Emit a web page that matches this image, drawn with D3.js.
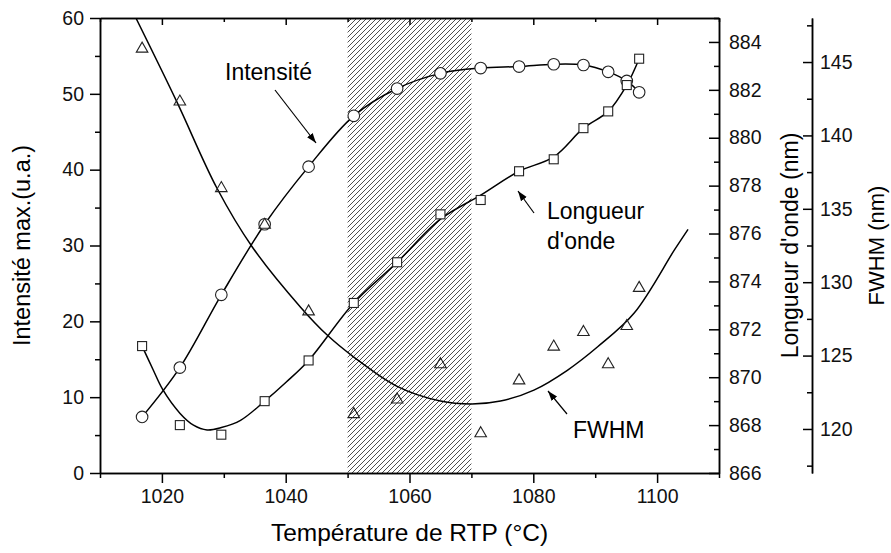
<!DOCTYPE html>
<html>
<head>
<meta charset="utf-8">
<script src="https://d3js.org/d3.v7.min.js"></script>
<style>
  body { margin: 0; background: #fff; }
  svg { font-family: "Liberation Sans", Arial, sans-serif; }
  .axis path, .axis line { stroke: #000; stroke-width: 1.5px; }
  .axis text { font-size: 19.5px; fill: #111; }
</style>
</head>
<body>
<svg width="891" height="553"></svg>
<script>
// Temperatures (°C) of the samples
var temps = [1016.8, 1022.9, 1029.6, 1036.6, 1043.7, 1051.0, 1058.0, 1065.0, 1071.5, 1077.7, 1083.3, 1088.1, 1092.1, 1095.1, 1097.1];
// Intensité max. (u.a.)
var intensity = [7.4, 13.9, 23.5, 32.8, 40.4, 47.1, 50.7, 52.7, 53.4, 53.6, 53.9, 53.8, 52.9, 51.7, 50.2];
// Longueur d'onde (nm)
var wavelength = [871.3, 868.0, 867.6, 869.0, 870.7, 873.1, 874.8, 876.8, 877.4, 878.6, 879.1, 880.4, 881.1, 882.2, 883.3];
// FWHM (nm)
var fwhm = [145.9, 142.3, 136.4, 133.9, 128.0, 121.0, 122.0, 124.4, 119.7, 123.3, 125.6, 126.6, 124.4, 127.0, 129.6];

// fitted curves
var wlFitT = [1016.8, 1018.6, 1020.1, 1022.9, 1025.1, 1027.3, 1029.6, 1032.7, 1036.6, 1040.1, 1043.7, 1051.0, 1058.0, 1065.0, 1071.5, 1077.7, 1083.3, 1088.1, 1092.1, 1095.1, 1097.1];
var wlFit = [871.3, 870.3, 869.5, 868.5, 868.0, 867.8, 867.9, 868.2, 869.0, 869.8, 870.7, 873.1, 874.8, 876.6, 877.6, 878.6, 879.2, 880.4, 881.1, 882.2, 883.3];
var fwFitT = [1015.8, 1022.4, 1028.9, 1034.6, 1042.4, 1046.7, 1051.0, 1058.0, 1065.0, 1070.1, 1074.7, 1080.1, 1085.5, 1090.4, 1096.3, 1102.8, 1105.0];
var fwFit = [148.0, 142.3, 136.4, 132.4, 128.3, 126.4, 124.9, 122.9, 121.9, 121.7, 121.9, 122.65, 124.0, 125.6, 127.9, 132.2, 133.6];

// shaded RTP window
var zoneT = [1050, 1070];

// tick values
var xMajor = [1020, 1040, 1060, 1080, 1100];
var xMinor = [1010, 1030, 1050, 1070, 1090, 1110];
var yMajor = [0, 10, 20, 30, 40, 50, 60];
var yMinor = [5, 15, 25, 35, 45, 55];
var wlMajor = [866, 868, 870, 872, 874, 876, 878, 880, 882, 884];
var wlMinor = [867, 869, 871, 873, 875, 877, 879, 881, 883, 885];
var fwMajor = [120, 125, 130, 135, 140, 145];
var fwMinor = [117.5, 122.5, 127.5, 132.5, 137.5, 142.5, 147.5];

var svg = d3.select("svg");
var pLeft = 100, pRight = 719, pTop = 18, pBottom = 473;

var x = d3.scaleLinear().domain([1010, 1110]).range([pLeft, pRight]);
var yI = d3.scaleLinear().domain([0, 60]).range([pBottom, pTop]);
var yW = d3.scaleLinear().domain([866, 885]).range([pBottom, pTop]);
var yF = d3.scaleLinear().domain([117, 148]).range([pBottom, pTop]);

// hatch pattern
var defs = svg.append("defs");
var pat = defs.append("pattern")
  .attr("id", "hatch")
  .attr("patternUnits", "userSpaceOnUse")
  .attr("width", 5).attr("height", 5);
pat.append("path")
  .attr("d", "M-1,1 l2,-2 M0,5 l5,-5 M4,6 l2,-2")
  .attr("stroke", "#222").attr("stroke-width", 0.8);
defs.append("clipPath").attr("id", "clip")
  .append("rect").attr("x", pLeft).attr("y", pTop)
  .attr("width", pRight - pLeft).attr("height", pBottom - pTop);

defs.append("marker").attr("id", "arrow")
  .attr("viewBox", "0 0 10 10").attr("refX", 10).attr("refY", 5)
  .attr("markerWidth", 10).attr("markerHeight", 10)
  .attr("markerUnits", "userSpaceOnUse")
  .attr("orient", "auto")
  .append("path").attr("d", "M0,1.5 L10,5 L0,8.5 Z").attr("fill", "#000");

svg.append("rect")
  .attr("x", x(zoneT[0])).attr("y", pTop)
  .attr("width", x(zoneT[1]) - x(zoneT[0])).attr("height", pBottom - pTop)
  .attr("fill", "url(#hatch)");

// curves
var plot = svg.append("g").attr("clip-path", "url(#clip)");

plot.append("path")
  .datum(d3.zip(temps, intensity))
  .attr("fill", "none").attr("stroke", "#000").attr("stroke-width", 1.5)
  .attr("d", d3.line().curve(d3.curveCatmullRom)
    .x(function (d) { return x(d[0]); })
    .y(function (d) { return yI(d[1]); }));

plot.append("path")
  .datum(d3.zip(wlFitT, wlFit))
  .attr("fill", "none").attr("stroke", "#000").attr("stroke-width", 1.5)
  .attr("d", d3.line().curve(d3.curveCatmullRom)
    .x(function (d) { return x(d[0]); })
    .y(function (d) { return yW(d[1]); }));

plot.append("path")
  .datum(d3.zip(fwFitT, fwFit))
  .attr("fill", "none").attr("stroke", "#000").attr("stroke-width", 1.5)
  .attr("d", d3.line().curve(d3.curveCatmullRom)
    .x(function (d) { return x(d[0]); })
    .y(function (d) { return yF(d[1]); }));

// markers
svg.append("g").selectAll("circle")
  .data(d3.zip(temps, intensity)).enter().append("circle")
  .attr("cx", function (d) { return x(d[0]); })
  .attr("cy", function (d) { return yI(d[1]); })
  .attr("r", 5.8)
  .attr("fill", "#fff").attr("stroke", "#222").attr("stroke-width", 1.1);

svg.append("g").selectAll("rect")
  .data(d3.zip(temps, wavelength)).enter().append("rect")
  .attr("x", function (d) { return x(d[0]) - 4.5; })
  .attr("y", function (d) { return yW(d[1]) - 4.5; })
  .attr("width", 9).attr("height", 9)
  .attr("fill", "#fff").attr("stroke", "#222").attr("stroke-width", 1.1);

var tri = d3.symbol().type(d3.symbolTriangle).size(58);
svg.append("g").selectAll("path")
  .data(d3.zip(temps, fwhm)).enter().append("path")
  .attr("transform", function (d) { return "translate(" + x(d[0]) + "," + yF(d[1]) + ")"; })
  .attr("d", tri)
  .attr("fill", "none").attr("stroke", "#222").attr("stroke-width", 1.1);

// axes
svg.append("g").attr("class", "axis")
  .attr("transform", "translate(0," + pBottom + ")")
  .call(d3.axisBottom(x).tickValues(xMajor).tickSizeInner(10).tickSizeOuter(0).tickPadding(6).tickFormat(d3.format("d")));
svg.append("g").attr("class", "axis")
  .attr("transform", "translate(0," + pBottom + ")")
  .call(d3.axisBottom(x).tickValues(xMinor).tickSizeInner(5).tickSizeOuter(0).tickFormat(""));
svg.append("g").attr("class", "axis")
  .attr("transform", "translate(0," + pTop + ")")
  .call(d3.axisTop(x).tickValues(xMajor).tickSizeInner(-7).tickSizeOuter(0).tickFormat(""));
svg.append("g").attr("class", "axis")
  .attr("transform", "translate(0," + pTop + ")")
  .call(d3.axisTop(x).tickValues(xMinor).tickSizeInner(-4).tickSizeOuter(0).tickFormat(""));

svg.append("g").attr("class", "axis")
  .attr("transform", "translate(" + pLeft + ",0)")
  .call(d3.axisLeft(yI).tickValues(yMajor).tickSizeInner(10).tickSizeOuter(0).tickPadding(6));
svg.append("g").attr("class", "axis")
  .attr("transform", "translate(" + pLeft + ",0)")
  .call(d3.axisLeft(yI).tickValues(yMinor).tickSizeInner(5).tickSizeOuter(0).tickFormat(""));

svg.append("g").attr("class", "axis")
  .attr("transform", "translate(" + pRight + ",0)")
  .call(d3.axisRight(yW).tickValues(wlMajor).tickSizeInner(-10).tickSizeOuter(0).tickPadding(10));
svg.append("g").attr("class", "axis")
  .attr("transform", "translate(" + pRight + ",0)")
  .call(d3.axisRight(yW).tickValues(wlMinor).tickSizeInner(-5).tickSizeOuter(0).tickFormat(""));

var fx = 812;
svg.append("g").attr("class", "axis")
  .attr("transform", "translate(" + fx + ",0)")
  .call(d3.axisRight(yF).tickValues(fwMajor).tickSizeInner(-9).tickSizeOuter(0).tickPadding(8));
svg.append("g").attr("class", "axis")
  .attr("transform", "translate(" + fx + ",0)")
  .call(d3.axisRight(yF).tickValues(fwMinor).tickSizeInner(-5).tickSizeOuter(0).tickFormat(""));

// titles
svg.append("text")
  .attr("x", (pLeft + pRight) / 2).attr("y", 541)
  .attr("text-anchor", "middle").style("font-size", "24.5px")
  .text("Température de RTP (°C)");
svg.append("text")
  .attr("transform", "translate(30," + (pTop + pBottom) / 2 + ") rotate(-90)")
  .attr("text-anchor", "middle").style("font-size", "23.5px")
  .text("Intensité max.(u.a.)");
svg.append("text")
  .attr("transform", "translate(798," + (pTop + pBottom) / 2 + ") rotate(-90)")
  .attr("text-anchor", "middle").style("font-size", "23px")
  .text("Longueur d'onde (nm)");
svg.append("text")
  .attr("transform", "translate(884," + (pTop + pBottom) / 2 + ") rotate(-90)")
  .attr("text-anchor", "middle").style("font-size", "22px")
  .text("FWHM (nm)");

// annotations
function note(lines, tx, ty, ax1, ay1, ax2, ay2) {
  var t = svg.append("text").attr("x", tx).attr("y", ty).style("font-size", "23px");
  lines.forEach(function (s, i) {
    t.append("tspan").attr("x", tx).attr("dy", i ? 30 : 0).text(s);
  });
  svg.append("line")
    .attr("x1", ax1).attr("y1", ay1).attr("x2", ax2).attr("y2", ay2)
    .attr("stroke", "#000").attr("stroke-width", 1.2)
    .attr("marker-end", "url(#arrow)");
}
note(["Intensité"], 225, 80, 275, 90, 316, 143);
note(["Longueur", "d'onde"], 547, 219, 534, 213, 518, 191);
note(["FWHM"], 573, 438, 567, 414, 548, 391);
</script>
</body>
</html>
